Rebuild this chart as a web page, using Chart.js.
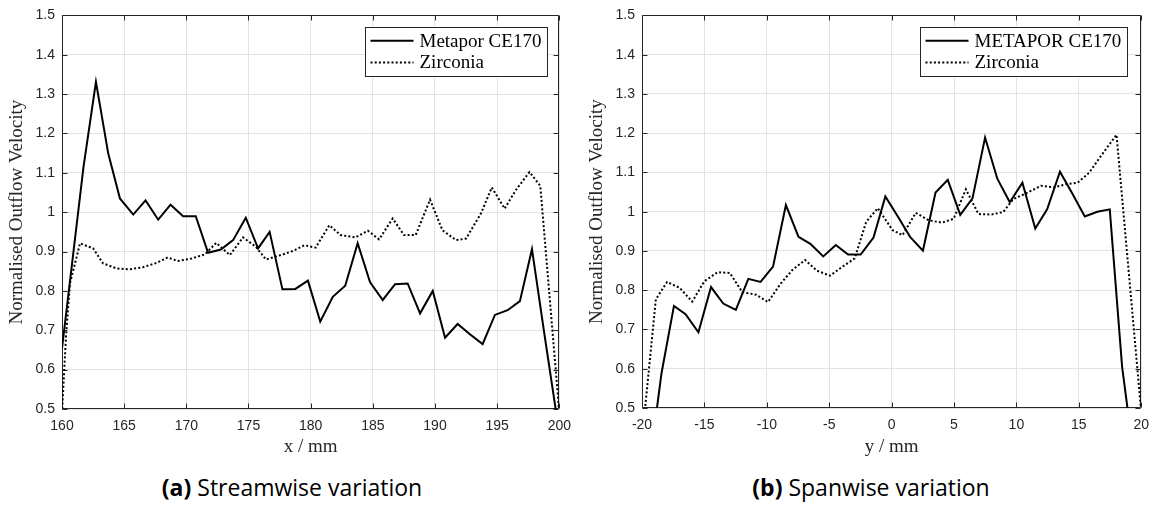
<!DOCTYPE html>
<html>
<head>
<meta charset="utf-8">
<script src="https://cdn.jsdelivr.net/npm/chart.js@4.4.1/dist/chart.umd.min.js"></script>
<style>
  html, body { margin: 0; padding: 0; background: #fff; }
  #wrap { position: relative; width: 1158px; height: 505px; overflow: hidden; background: #fff; }
  canvas { position: absolute; top: 0; }
  #chartA { left: 0; }
  #chartB { left: 580px; }
  .cap {
    position: absolute; top: 472px; font-family: "Open Sans", sans-serif; font-size: 23px;
    line-height: 30px; color: #000; white-space: nowrap; transform: translateX(-50%);
  }
  .cap b { font-weight: 700; }
</style>
</head>
<body>
<div id="wrap">
  <canvas id="chartA" width="580" height="470"></canvas>
  <canvas id="chartB" width="578" height="470"></canvas>
  <div class="cap" style="left:292px"><b>(a)</b> Streamwise variation</div>
  <div class="cap" style="left:871px"><b>(b)</b> Spanwise variation</div>
</div>
<script>
// ---- Streamwise profile (x / mm) ----
const streamMetaporX = [160.0, 161.73, 162.73, 163.72, 164.66, 165.73, 166.72, 167.74, 168.73, 169.74,
  170.76, 171.75, 172.77, 173.76, 174.78, 175.77, 176.7, 177.73, 178.77, 179.78,
  180.77, 181.78, 182.78, 183.78, 184.78, 185.8, 186.79, 187.8, 188.8, 189.82,
  190.81, 191.82, 192.81, 193.83, 194.82, 195.84, 196.83, 197.8, 198.8, 199.8];
const streamMetaporV = [0.654, 1.115, 1.331, 1.149, 1.035, 0.994, 1.030, 0.981, 1.019, 0.990,
  0.990, 0.897, 0.905, 0.929, 0.986, 0.908, 0.950, 0.804, 0.805, 0.826,
  0.722, 0.785, 0.813, 0.921, 0.822, 0.777, 0.817, 0.819, 0.743, 0.800,
  0.681, 0.716, 0.690, 0.665, 0.739, 0.751, 0.774, 0.906, 0.690, 0.480];

const streamZirconiaX = [160.0, 160.32, 160.64, 161.45, 162.5, 163.3, 164.4, 165.46, 166.5, 167.6,
  168.5, 169.3, 170.4, 171.5, 172.4, 173.5, 174.56, 175.6, 176.4, 177.8,
  178.6, 179.5, 180.4, 181.5, 182.4, 183.6, 184.6, 185.5, 186.6, 187.5,
  188.45, 189.6, 190.6, 191.7, 192.5, 193.7, 194.57, 195.6, 196.5, 197.6,
  198.47, 200.0];
const streamZirconiaV = [0.490, 0.684, 0.819, 0.921, 0.908, 0.870, 0.857, 0.855, 0.860, 0.871,
  0.885, 0.876, 0.882, 0.893, 0.922, 0.891, 0.936, 0.912, 0.880, 0.893,
  0.902, 0.916, 0.910, 0.967, 0.942, 0.936, 0.953, 0.931, 0.984, 0.942,
  0.942, 1.032, 0.954, 0.929, 0.933, 0.997, 1.063, 1.009, 1.056, 1.102,
  1.067, 0.490];

// ---- Spanwise profile (y / mm) ----
const spanMetaporX = [-19.5, -18.44, -17.44, -16.51, -15.48, -14.47, -13.49, -12.48, -11.48, -10.5,
  -9.5, -8.47, -7.46, -6.51, -5.48, -4.47, -3.49, -2.48, -1.45, -0.5,
  0.5, 1.48, 2.51, 3.52, 4.5, 5.5, 6.48, 7.49, 8.47, 9.47,
  10.48, 11.51, 12.46, 13.49, 14.5, 15.48, 16.48, 17.48, 18.47, 19.47];
const spanMetaporV = [0.330, 0.588, 0.760, 0.739, 0.693, 0.808, 0.766, 0.750, 0.829, 0.821,
  0.860, 1.017, 0.936, 0.918, 0.886, 0.915, 0.891, 0.891, 0.934, 1.039,
  0.988, 0.936, 0.901, 1.049, 1.081, 0.992, 1.034, 1.189, 1.084, 1.024,
  1.074, 0.957, 1.006, 1.102, 1.045, 0.988, 1.000, 1.006, 0.605, 0.360];

const spanZirconiaX = [-20.0, -18.89, -17.99, -16.98, -15.98, -15.0, -13.94, -12.96, -11.96, -10.9,
  -9.9, -8.91, -7.94, -6.93, -6.0, -4.94, -4.02, -2.96, -2.04, -1.11,
  0.08, 0.87, 1.93, 2.99, 4.05, 4.97, 5.95, 6.96, 8.02, 8.94,
  9.74, 10.66, 11.98, 13.04, 13.97, 14.9, 15.82, 16.75, 18.02, 20.0];
const spanZirconiaV = [0.420, 0.777, 0.821, 0.806, 0.771, 0.823, 0.846, 0.844, 0.795, 0.789,
  0.770, 0.816, 0.852, 0.877, 0.850, 0.837, 0.858, 0.881, 0.974, 1.009,
  0.953, 0.940, 0.997, 0.978, 0.972, 0.982, 1.057, 0.994, 0.993, 0.999,
  1.032, 1.045, 1.066, 1.062, 1.070, 1.074, 1.099, 1.141, 1.196, 0.490];

// ---- Axis ticks ----
const velocityTicks = [0.5, 0.6, 0.7, 0.8, 0.9, 1.0, 1.1, 1.2, 1.3, 1.4, 1.5];
const streamTicks = [160, 165, 170, 175, 180, 185, 190, 195, 200];
const spanTicks = [-20, -15, -10, -5, 0, 5, 10, 15, 20];

const AXIS_COLOR = '#262626';
const GRID_COLOR = '#e3e3e3';
const SERIF = '"Liberation Serif", "Times New Roman", serif';
const SANS = '"Liberation Sans", Arial, sans-serif';

const toPoints = (xs, vs) => xs.map((x, i) => ({ x: x, y: vs[i] }));

// Box round the plot area with inward tick marks on all four sides
const axesBox = {
  id: 'axesBox',
  beforeDatasetsDraw(chart) {
    const { ctx, chartArea: a, scales: { x, y } } = chart;
    const L = Math.round(a.left) + 0.5, R = Math.round(a.right) - 0.5;
    const T = Math.round(a.top) + 0.5, B = Math.round(a.bottom) - 0.5;
    const len = 5;
    ctx.save();
    ctx.strokeStyle = AXIS_COLOR;
    ctx.lineWidth = 1;
    ctx.beginPath();
    ctx.rect(L, T, R - L, B - T);
    x.ticks.forEach(t => {
      const px = Math.round(x.getPixelForValue(t.value)) + 0.5;
      ctx.moveTo(px, B); ctx.lineTo(px, B - len);
      ctx.moveTo(px, T); ctx.lineTo(px, T + len);
    });
    y.ticks.forEach(t => {
      const py = Math.round(y.getPixelForValue(t.value)) + 0.5;
      ctx.moveTo(L, py); ctx.lineTo(L + len, py);
      ctx.moveTo(R, py); ctx.lineTo(R - len, py);
    });
    ctx.stroke();
    ctx.restore();
  }
};

// Boxed legend in the upper right corner of the plot area
const boxedLegend = {
  id: 'boxedLegend',
  afterDatasetsDraw(chart, args, opts) {
    const { ctx, chartArea: a } = chart;
    const sets = chart.data.datasets;
    ctx.save();
    ctx.font = '19px ' + SERIF;
    const tw = Math.max(...sets.map(d => ctx.measureText(d.label).width));
    const padL = 5, sample = 43, gap = 6, padR = 6, h = 49;
    const w = Math.round(padL + sample + gap + tw + padR);
    const x0 = Math.round(a.right - opts.right - w) + 0.5;
    const y0 = Math.round(a.top + opts.top) + 0.5;
    ctx.fillStyle = '#fff';
    ctx.fillRect(x0, y0, w, h);
    ctx.strokeStyle = AXIS_COLOR;
    ctx.lineWidth = 1;
    ctx.strokeRect(x0, y0, w, h);
    sets.forEach((d, i) => {
      const cy = y0 + 13.3 + i * 21.7;
      ctx.beginPath();
      ctx.setLineDash(d.borderDash || []);
      ctx.lineWidth = d.borderWidth;
      ctx.strokeStyle = d.borderColor;
      ctx.moveTo(x0 + padL, cy);
      ctx.lineTo(x0 + padL + sample, cy);
      ctx.stroke();
      ctx.setLineDash([]);
      ctx.fillStyle = '#000';
      ctx.textAlign = 'left';
      ctx.textBaseline = 'middle';
      ctx.fillText(d.label, x0 + padL + sample + gap, cy + 1);
    });
    ctx.restore();
  }
};

function profileChart(id, cfg) {
  return new Chart(document.getElementById(id), {
    type: 'line',
    data: {
      datasets: [
        {
          label: cfg.names[0], data: toPoints(cfg.solidX, cfg.solidV),
          borderColor: '#000', borderWidth: 2, pointRadius: 0, tension: 0, clip: 0,
          borderJoinStyle: 'miter'
        },
        {
          label: cfg.names[1], data: toPoints(cfg.dotX, cfg.dotV),
          borderColor: '#000', borderWidth: 2, borderDash: [2, 2.2], pointRadius: 0,
          tension: 0, clip: 0
        }
      ]
    },
    options: {
      responsive: false,
      animation: false,
      devicePixelRatio: 1,
      parsing: true,
      layout: { padding: { top: cfg.padTop, right: cfg.padRight, left: 0, bottom: 0 } },
      plugins: {
        legend: { display: false },
        tooltip: { enabled: false },
        boxedLegend: { right: cfg.legRight, top: cfg.legTop }
      },
      scales: {
        x: {
          type: 'linear', min: cfg.xTicks[0], max: cfg.xTicks[cfg.xTicks.length - 1],
          afterBuildTicks: s => { s.ticks = cfg.xTicks.map(v => ({ value: v })); },
          afterFit: s => { s.height = cfg.xAxisHeight; },
          grid: { color: GRID_COLOR, lineWidth: 1, drawTicks: false },
          border: { display: false },
          ticks: {
            padding: 9, color: AXIS_COLOR, autoSkip: false, maxRotation: 0,
            font: { family: SANS, size: 14 },
            callback: v => String(v)
          },
          title: {
            display: true, text: cfg.xTitle, color: AXIS_COLOR,
            font: { family: SERIF, size: 19 }, padding: { top: 0, bottom: 11.6 }
          }
        },
        y: {
          type: 'linear', min: 0.5, max: 1.5,
          afterBuildTicks: s => { s.ticks = velocityTicks.map(v => ({ value: v })); },
          afterFit: s => { s.width = 62; },
          grid: { color: GRID_COLOR, lineWidth: 1, drawTicks: false },
          border: { display: false },
          ticks: {
            padding: 7, color: AXIS_COLOR, autoSkip: false,
            font: { family: SANS, size: 14 },
            callback: v => String(Number(v.toFixed(1)))
          },
          title: {
            display: true, text: 'Normalised Outflow Velocity', color: AXIS_COLOR,
            font: { family: SERIF, size: 19 }, padding: { top: 6, bottom: 0 }
          }
        }
      }
    },
    plugins: [axesBox, boxedLegend]
  });
}

profileChart('chartA', {
  names: ['Metapor CE170', 'Zirconia'],
  solidX: streamMetaporX, solidV: streamMetaporV,
  dotX: streamZirconiaX, dotV: streamZirconiaV,
  xTicks: streamTicks, xTitle: 'x / mm',
  padTop: 15, padRight: 20, xAxisHeight: 61,
  legRight: 12, legTop: 12
});

profileChart('chartB', {
  names: ['METAPOR CE170', 'Zirconia'],
  solidX: spanMetaporX, solidV: spanMetaporV,
  dotX: spanZirconiaX, dotV: spanZirconiaV,
  xTicks: spanTicks, xTitle: 'y / mm',
  padTop: 11, padRight: 12, xAxisHeight: 62,
  legRight: 14, legTop: 12
});
</script>
</body>
</html>
